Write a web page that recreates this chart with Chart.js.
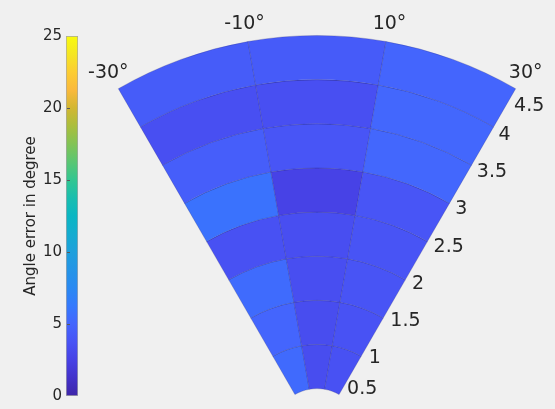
<!DOCTYPE html>
<html>
<head>
<meta charset="utf-8">
<script src="https://cdn.jsdelivr.net/npm/chart.js@4"></script>
<style>
  body { margin: 0; background: #f0f0f0; }
  #wrap { position: relative; width: 555px; height: 409px; }
  canvas { position: absolute; left: 0; top: 0; }
</style>
</head>
<body>
<div id="wrap">
  <canvas id="cbar" width="555" height="409"></canvas>
  <canvas id="fan" width="555" height="409"></canvas>
</div>
<script>
// bin edges of the polar grid
const thetaEdges = [-30, -10, 10, 30];
const rEdges = [0.5, 1, 1.5, 2, 2.5, 3, 3.5, 4, 4.5];
const thetaTicks = [-30, -10, 10, 30];
const rTicks = [0.5, 1, 1.5, 2, 2.5, 3, 3.5, 4, 4.5];

// angle error per ring (inner -> outer) for each angular sector
const errLeft  = [5.3, 5.0, 5.4, 3.6, 5.8, 4.5, 3.5, 4.4];  // -30..-10
const errMid   = [3.3, 3.3, 3.4, 3.4, 2.6, 3.9, 3.5, 4.3];  // -10..10
const errRight = [3.6, 3.7, 3.8, 3.8, 3.9, 5.1, 5.1, 5.0];  // 10..30

const cLim = [0, 25];
const cStep = 5;
const cLabel = 'Angle error in degree';

const FONT = 'DejaVu Sans';
const TXT = '#262626';

// parula-like colormap stops [t, r, g, b]
const parulaStops = [
  [0.00, 62, 38, 168], [0.05, 67, 50, 202], [0.10, 71, 65, 229],
  [0.15, 72, 83, 245], [0.20, 68, 101, 253], [0.25, 53, 121, 253],
  [0.30, 42, 137, 242], [0.40, 30, 160, 220], [0.45, 20, 172, 208],
  [0.50, 10, 182, 195], [0.55, 25, 190, 175], [0.60, 50, 198, 145],
  [0.65, 90, 198, 115], [0.70, 130, 195, 85], [0.75, 170, 190, 60],
  [0.80, 210, 183, 50], [0.85, 250, 185, 60], [0.90, 252, 205, 50],
  [0.95, 245, 230, 35], [1.00, 249, 251, 14]
];

function parula(t) {
  t = Math.max(0, Math.min(1, t));
  for (let i = 1; i < parulaStops.length; i++) {
    const a = parulaStops[i - 1], b = parulaStops[i];
    if (t <= b[0]) {
      const f = (t - a[0]) / (b[0] - a[0]);
      const c = [1, 2, 3].map(k => Math.round(a[k] + (b[k] - a[k]) * f));
      return `rgb(${c[0]},${c[1]},${c[2]})`;
    }
  }
  return 'rgb(249,251,14)';
}
const colorOf = v => parula((v - cLim[0]) / (cLim[1] - cLim[0]));

// ---------- colorbar ----------
const cbarTicks = {
  id: 'cbarTicks',
  afterDatasetsDraw(chart) {
    const c = chart.ctx, y = chart.scales.y, left = chart.chartArea.left;
    c.save();
    c.strokeStyle = '#5a5a5a';
    c.lineWidth = 1;
    y.ticks.forEach(t => {
      if (t.value <= cLim[0] || t.value >= cLim[1]) return;
      const py = Math.round(y.getPixelForValue(t.value)) + 0.5;
      c.beginPath();
      c.moveTo(left + 1, py);
      c.lineTo(left + 4, py);
      c.stroke();
    });
    c.restore();
  }
};

new Chart(document.getElementById('cbar'), {
  type: 'bar',
  data: {
    labels: [''],
    datasets: [{
      data: [[cLim[0], cLim[1]]],
      backgroundColor(ctx) {
        const chart = ctx.chart;
        if (!chart.chartArea) return 'transparent';
        const y = chart.scales.y;
        const g = chart.ctx.createLinearGradient(0, y.getPixelForValue(cLim[0]), 0, y.getPixelForValue(cLim[1]));
        parulaStops.forEach(s => g.addColorStop(s[0], `rgb(${s[1]},${s[2]},${s[3]})`));
        return g;
      },
      borderColor: '#a6a6a6',
      borderWidth: 1,
      borderSkipped: false,
      barPercentage: 1,
      categoryPercentage: 1
    }]
  },
  options: {
    responsive: false,
    animation: false,
    events: [],
    layout: { padding: { left: 0, right: 477, top: 36, bottom: 13 } },
    plugins: { legend: { display: false }, tooltip: { enabled: false } },
    scales: {
      x: { display: false },
      y: {
        position: 'left',
        min: cLim[0],
        max: cLim[1],
        afterFit(s) { s.width = 66; },
        grid: { display: false, drawTicks: false },
        border: { display: false },
        ticks: { stepSize: cStep, padding: 4, color: TXT, font: { family: FONT, size: 15 } },
        title: {
          display: true,
          text: cLabel,
          color: TXT,
          font: { family: FONT, size: 15 },
          padding: { top: 22, bottom: 0 }
        }
      }
    }
  },
  plugins: [cbarTicks]
});

// ---------- polar fan ----------
const sectors = [errLeft, errMid, errRight];
const sectorWidths = thetaEdges.slice(1).map((t, i) => t - thetaEdges[i]);
const rings = rEdges.slice(1).map((r, i) => i);          // ring indices inner -> outer
const datasets = rings.slice().reverse().map(i => ({      // doughnut draws first dataset outermost
  data: sectorWidths,
  weight: rEdges[i + 1] - rEdges[i],
  backgroundColor: sectors.map(s => colorOf(s[i])),
  borderColor: 'rgba(40,40,110,0.35)',
  borderWidth: 0.7
}));

const polarLabels = {
  id: 'polarLabels',
  afterDraw(chart) {
    const c = chart.ctx;
    const outer = chart.getDatasetMeta(0).data[0];
    const inner = chart.getDatasetMeta(chart.data.datasets.length - 1).data[0];
    const cx = outer.x, cy = outer.y;
    const R = outer.outerRadius, r0 = inner.innerRadius;
    const rMin = rEdges[0], rMax = rEdges[rEdges.length - 1];
    const pxOf = r => r0 + (r - rMin) * (R - r0) / (rMax - rMin);
    const ang = th => (th - 90) * Math.PI / 180;

    c.save();
    c.fillStyle = TXT;
    c.font = `19px "${FONT}"`;
    c.textBaseline = 'middle';

    c.textAlign = 'center';
    thetaTicks.forEach(th => {
      const a = ang(th), rr = R + 20;
      c.fillText(th + '°', cx + rr * Math.cos(a), cy + rr * Math.sin(a) + 2);
    });

    c.textAlign = 'left';
    const a = ang(thetaEdges[thetaEdges.length - 1]);
    const last = rTicks.length - 1;
    rTicks.forEach((r, k) => {
      const p = pxOf(r);
      const ex = cx + p * Math.cos(a), ey = cy + p * Math.sin(a);
      let x = ex + 8 - 0.01 * (p - r0);
      let y = ey + 1 + 0.0226 * (p - r0);
      if (k === 0) y -= 6;
      if (k === last) { y += 8; x -= 6; }
      c.fillText(String(r), x, y);
    });
    c.restore();
  }
};

new Chart(document.getElementById('fan'), {
  type: 'doughnut',
  data: { labels: ['-30..-10', '-10..10', '10..30'], datasets: datasets },
  options: {
    responsive: false,
    animation: false,
    events: [],
    rotation: thetaEdges[0],
    circumference: thetaEdges[thetaEdges.length - 1] - thetaEdges[0],
    cutout: (rEdges[0] / rEdges[rEdges.length - 1] * 100) + '%',
    layout: { padding: { left: 118, right: 39, top: 35, bottom: 14 } },
    plugins: { legend: { display: false }, tooltip: { enabled: false } }
  },
  plugins: [polarLabels]
});
</script>
</body>
</html>
